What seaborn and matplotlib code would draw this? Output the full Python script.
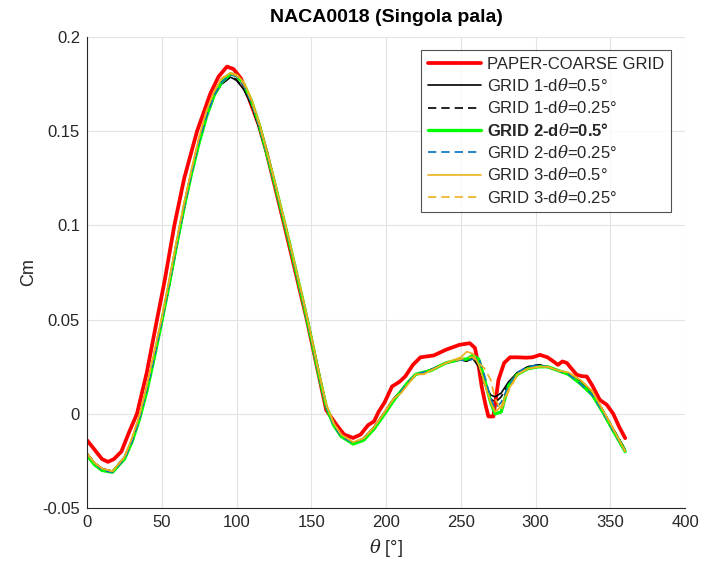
import numpy as np
import pandas as pd
import seaborn as sns
import matplotlib
matplotlib.use("Agg")
import matplotlib.pyplot as plt

# Paper reference curve (own theta sampling)
theta_paper = [0, 5, 10, 14, 18, 23, 28, 33.4, 40, 46.8, 52, 58.4, 65, 73.6, 82.5, 88, 93.6, 98,
               103, 108, 115, 120, 132, 147, 160, 167, 172, 178, 183, 188, 192, 195, 199, 204,
               209, 213, 218, 223, 232, 240, 249, 256, 259.5, 262, 264, 266.5, 268.5, 271.8,
               273.5, 275.2, 279, 283, 288, 294, 298, 303, 308, 312, 315, 318, 321, 323, 327.6,
               331, 334.3, 338, 343, 347.7, 352, 356, 360]
cm_paper = [-0.014, -0.019, -0.024, -0.0255, -0.024, -0.020, -0.010, 0.0, 0.022, 0.05, 0.071, 0.1,
            0.125, 0.15, 0.170, 0.179, 0.1843, 0.183, 0.178, 0.168, 0.153, 0.139, 0.1, 0.05, 0.002,
            -0.006, -0.011, -0.0128, -0.011, -0.006, -0.004, 0.001, 0.006, 0.0145, 0.017, 0.020,
            0.026, 0.030, 0.031, 0.034, 0.0366, 0.0375, 0.035, 0.025, 0.0145, 0.005, -0.0014,
            -0.0014, 0.008, 0.018, 0.027, 0.030, 0.030, 0.0298, 0.030, 0.0313, 0.030, 0.0278,
            0.026, 0.0278, 0.027, 0.025, 0.0207, 0.020, 0.0198, 0.015, 0.0074, 0.0048, 0.0,
            -0.007, -0.0129]

# CFD curves share the same theta sampling
theta = [0, 5, 10, 17, 25, 30, 35, 40, 45, 50, 55, 60, 65, 70, 75, 80, 85, 90, 96, 100, 105, 110,
         115, 120, 125, 130, 135, 140, 145, 150, 155, 160, 165, 170, 178, 185, 192, 200, 205, 210,
         215, 220, 225, 230, 240, 250, 254, 258, 262, 266, 270, 273, 277, 282, 288, 295, 302, 308,
         315, 322, 330, 338, 345, 352, 360]

g1_05 = [-0.021, -0.026, -0.029, -0.0305, -0.023, -0.014, -0.002, 0.014, 0.031, 0.049, 0.068,
         0.089, 0.109, 0.128, 0.145, 0.159, 0.169, 0.175, 0.1787, 0.177, 0.172, 0.164, 0.152,
         0.138, 0.123, 0.107, 0.091, 0.074, 0.057, 0.039, 0.020, 0.003, -0.006, -0.012, -0.0155,
         -0.013, -0.007, 0.002, 0.008, 0.012, 0.017, 0.021, 0.022, 0.0235, 0.027, 0.0287, 0.028,
         0.0295, 0.025, 0.016, 0.010, 0.009, 0.011, 0.017, 0.022, 0.025, 0.026, 0.025, 0.023,
         0.021, 0.017, 0.011, 0.002, -0.008, -0.019]
g1_025 = [-0.021, -0.026, -0.029, -0.0305, -0.023, -0.014, -0.002, 0.014, 0.031, 0.049, 0.068,
          0.089, 0.109, 0.128, 0.145, 0.159, 0.169, 0.175, 0.179, 0.1775, 0.172, 0.164, 0.152,
          0.138, 0.123, 0.107, 0.091, 0.074, 0.057, 0.039, 0.020, 0.003, -0.006, -0.012, -0.0155,
          -0.013, -0.007, 0.002, 0.008, 0.012, 0.017, 0.021, 0.022, 0.0235, 0.027, 0.0287, 0.028,
          0.030, 0.026, 0.016, 0.008, 0.006, 0.009, 0.016, 0.022, 0.025, 0.026, 0.025, 0.023,
          0.021, 0.017, 0.011, 0.002, -0.008, -0.019]
g2_05 = [-0.022, -0.027, -0.030, -0.031, -0.024, -0.015, -0.003, 0.012, 0.030, 0.049, 0.069,
         0.090, 0.110, 0.128, 0.144, 0.158, 0.169, 0.176, 0.1805, 0.1795, 0.175, 0.166, 0.154,
         0.139, 0.124, 0.108, 0.092, 0.075, 0.058, 0.040, 0.021, 0.004, -0.006, -0.012, -0.016,
         -0.014, -0.008, 0.001, 0.007, 0.012, 0.017, 0.021, 0.022, 0.023, 0.027, 0.029, 0.029,
         0.031, 0.029, 0.018, 0.006, 0.000, 0.001, 0.015, 0.021, 0.024, 0.025, 0.025, 0.023,
         0.021, 0.016, 0.010, 0.001, -0.009, -0.020]
g2_025 = [-0.021, -0.026, -0.030, -0.031, -0.024, -0.015, -0.003, 0.013, 0.030, 0.049, 0.069,
          0.090, 0.110, 0.128, 0.145, 0.158, 0.169, 0.176, 0.180, 0.179, 0.174, 0.165, 0.153,
          0.139, 0.124, 0.108, 0.092, 0.075, 0.058, 0.040, 0.021, 0.004, -0.006, -0.012, -0.0155,
          -0.013, -0.007, 0.002, 0.008, 0.012, 0.017, 0.021, 0.022, 0.0235, 0.027, 0.0287, 0.028,
          0.029, 0.030, 0.020, 0.008, 0.003, 0.006, 0.015, 0.022, 0.025, 0.026, 0.025, 0.023,
          0.021, 0.016, 0.010, 0.001, -0.009, -0.020]
g3_05 = [-0.021, -0.026, -0.029, -0.0305, -0.023, -0.013, -0.001, 0.015, 0.033, 0.051, 0.071,
         0.092, 0.112, 0.130, 0.147, 0.161, 0.171, 0.178, 0.181, 0.180, 0.176, 0.167, 0.155,
         0.140, 0.125, 0.109, 0.093, 0.076, 0.059, 0.041, 0.022, 0.005, -0.005, -0.011, -0.015,
         -0.013, -0.007, 0.002, 0.008, 0.011, 0.016, 0.021, 0.021, 0.023, 0.027, 0.030, 0.033,
         0.032, 0.026, 0.016, 0.006, 0.001, 0.004, 0.013, 0.021, 0.024, 0.025, 0.025, 0.023,
         0.022, 0.018, 0.012, 0.002, -0.008, -0.020]
g3_025 = [-0.021, -0.026, -0.029, -0.0305, -0.023, -0.013, -0.001, 0.015, 0.033, 0.051, 0.071,
          0.092, 0.112, 0.130, 0.147, 0.161, 0.171, 0.178, 0.1805, 0.1795, 0.175, 0.166, 0.154,
          0.140, 0.125, 0.109, 0.093, 0.076, 0.059, 0.041, 0.022, 0.005, -0.005, -0.011, -0.015,
          -0.013, -0.007, 0.002, 0.008, 0.011, 0.016, 0.021, 0.021, 0.023, 0.027, 0.029, 0.030,
          0.030, 0.027, 0.024, 0.018, 0.008, 0.002, 0.012, 0.021, 0.024, 0.025, 0.025, 0.023,
          0.022, 0.018, 0.012, 0.002, -0.008, -0.020]

labels = ['PAPER-COARSE GRID',
          r'GRID 1-d$\theta$=0.5°',
          r'GRID 1-d$\theta$=0.25°',
          r'GRID 2-d$\theta$=0.5°',
          r'GRID 2-d$\theta$=0.25°',
          r'GRID 3-d$\theta$=0.5°',
          r'GRID 3-d$\theta$=0.25°']

sns.set_style("white")
plt.rcParams['font.family'] = ['Liberation Sans', 'DejaVu Sans']
plt.rcParams['mathtext.fontset'] = 'dejavuserif'

fig = plt.figure(figsize=(7.03, 5.67), dpi=100)
ax = fig.add_axes([0.1238, 0.104, 0.8506, 0.8307])

red = (1.0, 0.0, 0.0)
green = (0.0, 1.0, 0.0)
blue = (0.0, 0.447, 0.741)
orange = (0.929, 0.694, 0.125)

sns.lineplot(x=theta_paper, y=cm_paper, ax=ax, color=red, linewidth=2.7, label=labels[0], sort=False)
sns.lineplot(x=theta, y=g1_05, ax=ax, color='black', linewidth=1.2, label=labels[1], sort=False)
sns.lineplot(x=theta, y=g1_025, ax=ax, color='black', linewidth=1.2, linestyle=(0, (5, 3)),
             label=labels[2], sort=False)
sns.lineplot(x=theta, y=g2_05, ax=ax, color=green, linewidth=2.4, label=labels[3], sort=False)
sns.lineplot(x=theta, y=g2_025, ax=ax, color=blue, linewidth=1.2, linestyle=(0, (5, 3)),
             label=labels[4], sort=False)
sns.lineplot(x=theta, y=g3_05, ax=ax, color=orange, linewidth=1.2, label=labels[5], sort=False)
sns.lineplot(x=theta, y=g3_025, ax=ax, color=orange, linewidth=1.2, linestyle=(0, (5, 3)),
             label=labels[6], sort=False)

ax.set_xlim(0, 400)
ax.set_ylim(-0.05, 0.2)
ax.set_xticks(np.arange(0, 401, 50))
ax.set_yticks([-0.05, 0, 0.05, 0.1, 0.15, 0.2])
ax.set_yticklabels(['-0.05', '0', '0.05', '0.1', '0.15', '0.2'])
ax.grid(True, color='#e3e3e3', linewidth=0.8)
ax.tick_params(direction='in', length=4, labelsize=12, colors='#262626', width=0.8, pad=5)
for s in ['top', 'right']:
    ax.spines[s].set_visible(False)
for s in ['left', 'bottom']:
    ax.spines[s].set_color('#262626')
    ax.spines[s].set_linewidth(0.8)

ax.set_xlabel(r'$\theta$ [°]', fontsize=13, color='#262626', labelpad=5)
ax.set_ylabel('Cm', fontsize=13, color='#262626')
ax.set_title('NACA0018 (Singola pala)', fontsize=14, fontweight='bold', color='black', pad=11)

leg = ax.legend(loc='upper right', bbox_to_anchor=(0.9766, 0.9724), borderaxespad=0,
                frameon=True, fontsize=12, handlelength=3.2, labelspacing=0.32,
                borderpad=0.4, fancybox=False, handletextpad=0.36)
leg.get_frame().set_edgecolor('#262626')
leg.get_frame().set_linewidth(0.8)
leg.get_texts()[3].set_fontweight('bold')

fig.savefig('out.png', dpi=100)
